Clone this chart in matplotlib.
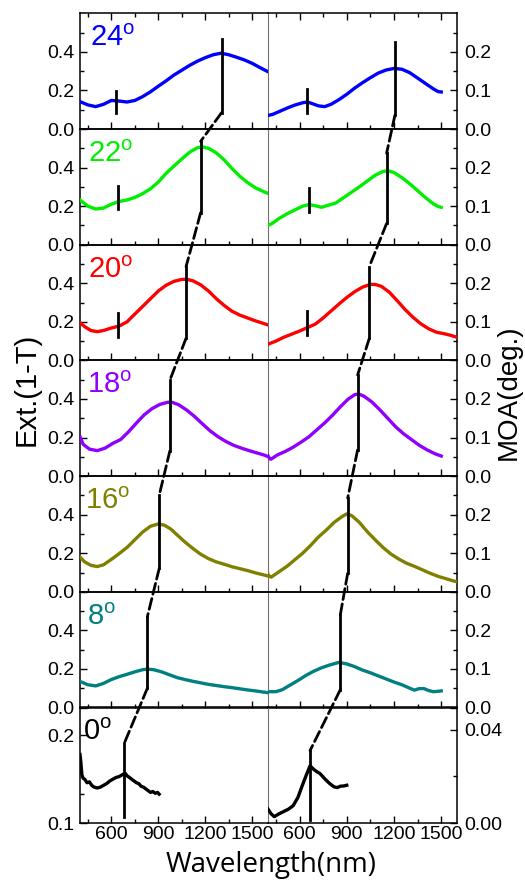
import matplotlib
matplotlib.use("Agg")
import matplotlib.pyplot as plt
from matplotlib.patches import ConnectionPatch
from matplotlib.ticker import FixedLocator, FixedFormatter

plt.rcParams['font.family'] = ['Liberation Sans', 'DejaVu Sans']
plt.rcParams['mathtext.fontset'] = 'custom'
plt.rcParams['mathtext.rm'] = 'Liberation Sans'
plt.rcParams['mathtext.it'] = 'Liberation Sans:italic'

# ---------------- data ----------------
angles = ["24", "22", "20", "18", "16", "8", "0"]
colors = ["#0000FF", "#00EE00", "#FF0000", "#8F00FF", "#808000", "#008080", "#000000"]

ext_wl = [
    [400, 450, 500, 550, 600, 650, 700, 750, 800, 850, 900, 950, 1000, 1050, 1100, 1150, 1200, 1250, 1300, 1350, 1400, 1450, 1500, 1550, 1600],
    [400, 450, 500, 550, 600, 650, 700, 750, 800, 850, 900, 950, 1000, 1050, 1100, 1150, 1180, 1220, 1270, 1320, 1370, 1420, 1470, 1520, 1570, 1600],
    [400, 430, 470, 510, 550, 600, 650, 700, 750, 800, 850, 900, 950, 1000, 1050, 1080, 1120, 1170, 1220, 1270, 1320, 1370, 1420, 1470, 1520, 1570, 1600],
    [400, 420, 460, 510, 560, 610, 660, 710, 760, 810, 860, 910, 960, 990, 1030, 1080, 1130, 1180, 1230, 1280, 1330, 1380, 1430, 1480, 1530, 1580, 1600],
    [400, 430, 470, 510, 550, 600, 650, 700, 750, 800, 850, 900, 940, 980, 1020, 1070, 1120, 1170, 1220, 1270, 1320, 1370, 1420, 1470, 1520, 1570, 1600],
    [400, 450, 500, 550, 600, 650, 700, 750, 800, 830, 870, 920, 970, 1020, 1070, 1120, 1170, 1220, 1270, 1320, 1370, 1420, 1470, 1520, 1570, 1600],
    [400, 405, 412, 420, 430, 445, 460, 475, 490, 510, 530, 550, 570, 590, 610, 630, 650, 670, 687, 700, 715, 730, 745, 760, 775, 790, 805, 820, 835, 850, 865, 880, 895, 905],
]
ext_val = [
    [0.142, 0.125, 0.116, 0.128, 0.148, 0.145, 0.140, 0.148, 0.168, 0.193, 0.222, 0.250, 0.280, 0.305, 0.330, 0.352, 0.370, 0.385, 0.393, 0.385, 0.372, 0.358, 0.340, 0.318, 0.297],
    [0.232, 0.200, 0.185, 0.190, 0.210, 0.224, 0.232, 0.245, 0.265, 0.290, 0.325, 0.370, 0.408, 0.445, 0.480, 0.503, 0.508, 0.500, 0.476, 0.440, 0.395, 0.355, 0.322, 0.295, 0.276, 0.266],
    [0.195, 0.175, 0.155, 0.149, 0.155, 0.168, 0.178, 0.200, 0.240, 0.280, 0.320, 0.360, 0.390, 0.410, 0.420, 0.421, 0.413, 0.392, 0.360, 0.320, 0.285, 0.255, 0.235, 0.220, 0.205, 0.192, 0.184],
    [0.205, 0.165, 0.140, 0.132, 0.145, 0.170, 0.190, 0.230, 0.275, 0.318, 0.350, 0.372, 0.383, 0.382, 0.370, 0.343, 0.310, 0.272, 0.235, 0.205, 0.180, 0.160, 0.145, 0.132, 0.120, 0.108, 0.101],
    [0.180, 0.155, 0.137, 0.131, 0.140, 0.168, 0.198, 0.230, 0.270, 0.310, 0.340, 0.352, 0.345, 0.325, 0.295, 0.258, 0.225, 0.195, 0.172, 0.155, 0.143, 0.130, 0.120, 0.110, 0.098, 0.088, 0.082],
    [0.135, 0.118, 0.112, 0.125, 0.145, 0.160, 0.172, 0.185, 0.196, 0.199, 0.196, 0.185, 0.170, 0.155, 0.145, 0.136, 0.128, 0.120, 0.114, 0.108, 0.103, 0.097, 0.091, 0.086, 0.080, 0.077],
    [0.178, 0.170, 0.155, 0.151, 0.150, 0.146, 0.147, 0.143, 0.141, 0.140, 0.141, 0.143, 0.145, 0.148, 0.150, 0.152, 0.153, 0.155, 0.157, 0.154, 0.152, 0.150, 0.148, 0.146, 0.145, 0.142, 0.141, 0.139, 0.137, 0.135, 0.136, 0.134, 0.135, 0.133],
]

moa_wl = [
    [400, 430, 470, 520, 570, 620, 650, 680, 720, 760, 800, 850, 900, 950, 1000, 1050, 1100, 1150, 1200, 1250, 1300, 1350, 1400, 1450, 1480, 1500],
    [400, 430, 470, 520, 570, 620, 660, 700, 740, 780, 830, 880, 930, 980, 1030, 1080, 1130, 1160, 1200, 1250, 1300, 1350, 1400, 1450, 1480, 1500],
    [400, 450, 500, 550, 600, 650, 700, 750, 800, 850, 900, 950, 1000, 1050, 1080, 1120, 1170, 1220, 1270, 1320, 1370, 1420, 1470, 1520, 1560, 1600],
    [400, 410, 420, 460, 510, 560, 610, 660, 710, 760, 810, 860, 910, 950, 975, 1010, 1060, 1110, 1160, 1210, 1260, 1310, 1360, 1410, 1460, 1500],
    [400, 410, 420, 470, 520, 570, 620, 670, 720, 770, 820, 870, 900, 930, 980, 1030, 1080, 1130, 1180, 1230, 1280, 1330, 1380, 1430, 1480, 1530, 1570, 1600],
    [400, 450, 490, 540, 590, 640, 690, 740, 790, 850, 900, 950, 1000, 1050, 1100, 1150, 1200, 1250, 1300, 1330, 1360, 1390, 1420, 1450, 1480, 1500],
    [400, 420, 440, 470, 500, 530, 560, 590, 615, 640, 667, 690, 710, 730, 760, 790, 820, 840, 860, 880, 900],
]
moa_val = [
    [0.035, 0.038, 0.045, 0.054, 0.062, 0.068, 0.070, 0.066, 0.060, 0.058, 0.064, 0.076, 0.090, 0.106, 0.120, 0.133, 0.145, 0.153, 0.157, 0.155, 0.146, 0.132, 0.118, 0.104, 0.097, 0.096],
    [0.050, 0.056, 0.068, 0.080, 0.090, 0.100, 0.104, 0.101, 0.097, 0.102, 0.108, 0.122, 0.136, 0.150, 0.165, 0.180, 0.190, 0.192, 0.187, 0.174, 0.158, 0.140, 0.122, 0.106, 0.099, 0.097],
    [0.042, 0.050, 0.060, 0.068, 0.076, 0.085, 0.094, 0.110, 0.128, 0.146, 0.163, 0.178, 0.190, 0.197, 0.197, 0.192, 0.177, 0.155, 0.132, 0.112, 0.095, 0.082, 0.073, 0.069, 0.065, 0.060],
    [0.053, 0.045, 0.044, 0.055, 0.064, 0.075, 0.088, 0.102, 0.120, 0.138, 0.158, 0.180, 0.200, 0.211, 0.213, 0.207, 0.192, 0.172, 0.150, 0.128, 0.110, 0.095, 0.080, 0.068, 0.058, 0.052],
    [0.046, 0.040, 0.038, 0.052, 0.066, 0.083, 0.100, 0.120, 0.142, 0.160, 0.180, 0.195, 0.202, 0.198, 0.180, 0.156, 0.135, 0.115, 0.098, 0.085, 0.074, 0.066, 0.057, 0.048, 0.040, 0.034, 0.029, 0.026],
    [0.041, 0.041, 0.046, 0.058, 0.070, 0.083, 0.094, 0.103, 0.110, 0.117, 0.113, 0.106, 0.097, 0.090, 0.082, 0.074, 0.066, 0.059, 0.050, 0.045, 0.049, 0.049, 0.044, 0.041, 0.042, 0.043],
    [0.0060, 0.0040, 0.0028, 0.0040, 0.0050, 0.0060, 0.0075, 0.0110, 0.0156, 0.0200, 0.0245, 0.0230, 0.0220, 0.0212, 0.0190, 0.0170, 0.0155, 0.0152, 0.0158, 0.0159, 0.0162],
]

# peak marker lines: wavelength, top value, bottom value
ext_peak_wl = [1304, 1170, 1077, 974, 906, 830, 683]
ext_peak_top = [0.467, 0.536, 0.486, 0.498, 0.502, 0.471, 0.191]
ext_peak_bot = [0.085, 0.166, 0.115, 0.132, 0.122, 0.100, 0.1075]
moa_peak_wl = [1206, 1153, 1043, 969, 906, 859, 667]
moa_peak_top = [0.226, 0.237, 0.243, 0.262, 0.243, 0.240, 0.031]
moa_peak_bot = [0.036, 0.055, 0.057, 0.068, 0.048, 0.046, 0.0014]

# short markers near 640 nm (rows 24, 22, 20)
ext_mark_wl = [630, 645, 645]
ext_mark_lo = [0.082, 0.184, 0.123]
ext_mark_hi = [0.199, 0.304, 0.247]
moa_mark_wl = [646, 660, 648]
moa_mark_lo = [0.042, 0.086, 0.066]
moa_mark_hi = [0.103, 0.146, 0.128]

x_major = [600, 900, 1200, 1500]
x_minor = [450, 750, 1050, 1350]

# ---------------- figure ----------------
W, H = 525, 883
fig = plt.figure(figsize=(W / 100, H / 100), dpi=100)

left_x0, mid_x, right_x1 = 80 / W, 268 / W, 457 / W
top_px, row_px = 13.3, 115.7
nrows = 7

axL, axR = [], []
for i in range(nrows):
    y0 = 1 - (top_px + (i + 1) * row_px) / H
    h = row_px / H
    a = fig.add_axes([left_x0, y0, mid_x - left_x0, h])
    b = fig.add_axes([mid_x, y0, right_x1 - mid_x, h])
    axL.append(a)
    axR.append(b)

for i in range(nrows):
    a, b = axL[i], axR[i]
    c = colors[i]
    a.plot(ext_wl[i], ext_val[i], color=c, lw=2.4, solid_joinstyle='round', zorder=3)
    b.plot(moa_wl[i], moa_val[i], color=c, lw=2.4, solid_joinstyle='round', zorder=3)
    for ax in (a, b):
        ax.set_xlim(400, 1600)
        ax.xaxis.set_major_locator(FixedLocator(x_major))
        ax.xaxis.set_minor_locator(FixedLocator(x_minor))
        for s in ax.spines.values():
            s.set_linewidth(1.1)
        ax.tick_params(which='both', direction='in', top=(i == 0), bottom=True,
                       labelbottom=(i == nrows - 1), labelsize=14, pad=2,
                       width=1.0)
        ax.tick_params(which='major', length=5)
        ax.tick_params(which='minor', length=3)
        ax.patch.set_alpha(0)
    # y axes
    if i < nrows - 1:
        a.set_ylim(0, 0.6)
        a.yaxis.set_major_locator(FixedLocator([0.0, 0.2, 0.4]))
        a.yaxis.set_minor_locator(FixedLocator([0.1, 0.3, 0.5]))
        a.yaxis.set_major_formatter(FixedFormatter(["0.0", "0.2", "0.4"]))
        b.set_ylim(0, 0.3)
        b.yaxis.set_major_locator(FixedLocator([0.0, 0.1, 0.2]))
        b.yaxis.set_minor_locator(FixedLocator([0.05, 0.15, 0.25]))
        b.yaxis.set_major_formatter(FixedFormatter(["0.0", "0.1", "0.2"]))
    else:
        a.set_ylim(0.1, 0.2315)
        a.yaxis.set_major_locator(FixedLocator([0.1, 0.2]))
        a.yaxis.set_minor_locator(FixedLocator([0.133]))
        a.yaxis.set_major_formatter(FixedFormatter(["0.1", "0.2"]))
        b.set_ylim(0, 0.0494)
        b.yaxis.set_major_locator(FixedLocator([0.0, 0.04]))
        b.yaxis.set_minor_locator(FixedLocator([0.02]))
        b.yaxis.set_major_formatter(FixedFormatter(["0.00", "0.04"]))
    a.tick_params(axis='y', which='both', left=True, right=False, labelleft=True, pad=4)
    b.tick_params(axis='y', which='both', left=False, right=True, labelleft=False,
                  labelright=True, pad=5)
    a.spines['right'].set_color('#707070')
    a.spines['right'].set_linewidth(0.8)
    b.spines['left'].set_visible(False)

    # peak vertical lines
    a.plot([ext_peak_wl[i]] * 2, [ext_peak_bot[i], ext_peak_top[i]], color='black', lw=2.0, zorder=4)
    b.plot([moa_peak_wl[i]] * 2, [moa_peak_bot[i], moa_peak_top[i]], color='black', lw=2.0, zorder=4)

    # angle label
    lx = [0.055, 0.045, 0.045, 0.035, 0.027, 0.036, 0.016][i]
    a.text(lx, 0.715, angles[i] + r'$^{\mathrm{o}}$', transform=a.transAxes,
           color=c, fontsize=21, ha='left', va='baseline', zorder=5)

for i in range(3):
    axL[i].plot([ext_mark_wl[i]] * 2, [ext_mark_lo[i], ext_mark_hi[i]], color='black', lw=2.0, zorder=4)
    axR[i].plot([moa_mark_wl[i]] * 2, [moa_mark_lo[i], moa_mark_hi[i]], color='black', lw=2.0, zorder=4)

# dashed connectors between rows
for i in range(nrows - 1):
    for axs, wl, top, bot in ((axL, ext_peak_wl, ext_peak_top, ext_peak_bot),
                              (axR, moa_peak_wl, moa_peak_top, moa_peak_bot)):
        cp = ConnectionPatch(xyA=(wl[i], bot[i]), coordsA=axs[i].transData,
                             xyB=(wl[i + 1], top[i + 1]), coordsB=axs[i + 1].transData,
                             color='black', lw=2.0, linestyle=(0, (4, 1.6)), zorder=6)
        fig.add_artist(cp)

fig.text(27 / W, 1 - 389 / H, "Ext.(1-T)", rotation=90, ha='center', va='center', fontsize=21)
fig.text(509 / W, 1 - 392 / H, "MOA(deg.)", rotation=90, ha='center', va='center', fontsize=20)
fig.text(271 / W, 1 - 865 / H, "Wavelength(nm)", ha='center', va='center', fontsize=20,
         family=['Open Sans', 'DejaVu Sans'])

fig.savefig("out.png", dpi=100)
